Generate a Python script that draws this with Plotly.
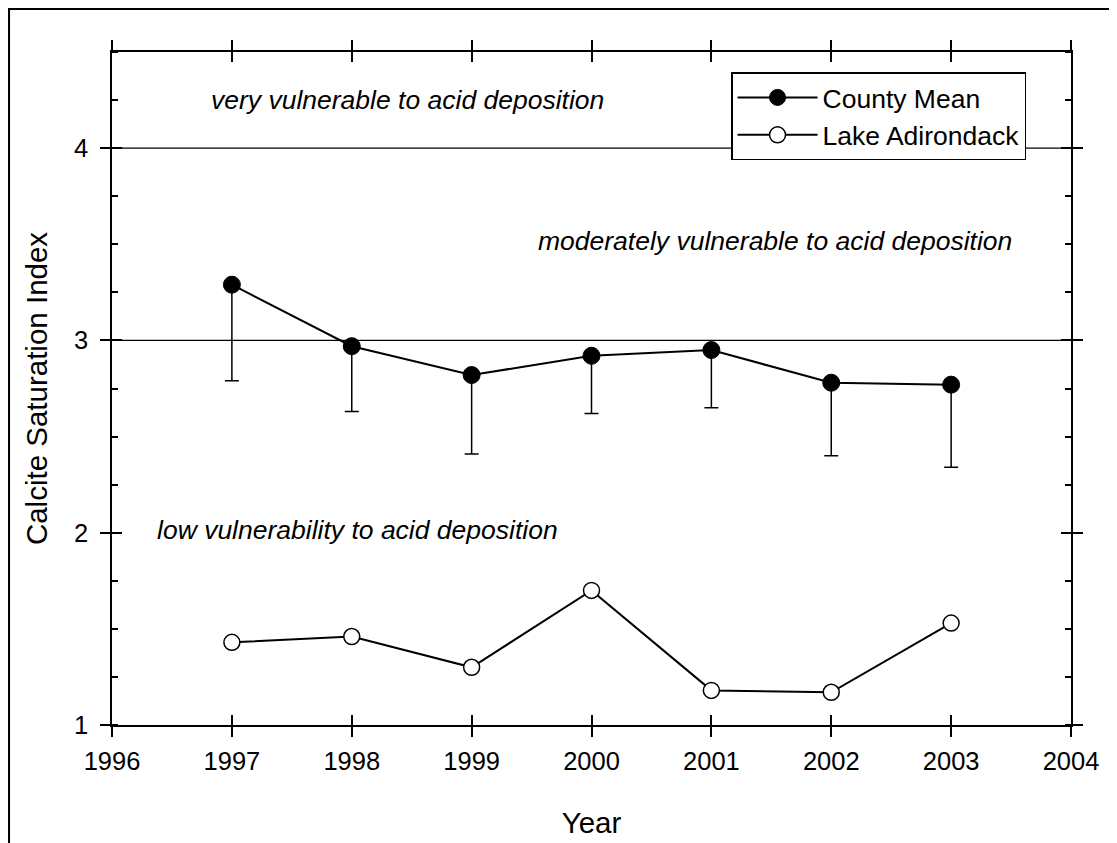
import plotly.graph_objects as go

years = [1997, 1998, 1999, 2000, 2001, 2002, 2003]
county_mean = [3.29, 2.97, 2.82, 2.92, 2.95, 2.78, 2.77]
county_lower = [2.79, 2.63, 2.41, 2.62, 2.65, 2.40, 2.34]
lake_adirondack = [1.43, 1.46, 1.30, 1.70, 1.18, 1.17, 1.53]
thresholds = [3, 4]
zone_labels = ["very vulnerable to acid deposition",
               "moderately vulnerable to acid deposition",
               "low vulnerability to acid deposition"]
x_ticks = [1996, 1997, 1998, 1999, 2000, 2001, 2002, 2003, 2004]
y_ticks = [1, 2, 3, 4]

FONT = "Liberation Sans, Arial, sans-serif"

err_minus = [m - l for m, l in zip(county_mean, county_lower)]

fig = go.Figure()
fig.add_trace(go.Scatter(
    x=years, y=county_mean, name="County Mean", mode="lines+markers",
    line=dict(color="black", width=2),
    marker=dict(symbol="circle", size=17, color="black", line=dict(color="black", width=1)),
    error_y=dict(type="data", symmetric=False, array=[0] * len(years), arrayminus=err_minus,
                 color="black", thickness=1.5, width=7),
))
fig.add_trace(go.Scatter(
    x=years, y=lake_adirondack, name="Lake Adirondack", mode="lines+markers",
    line=dict(color="black", width=2),
    marker=dict(symbol="circle", size=16, color="white", line=dict(color="black", width=1.5)),
))
# invisible trace to instantiate the overlay axes (inward ticks)
fig.add_trace(go.Scatter(x=[None], y=[None], xaxis="x2", yaxis="y2", showlegend=False,
                         hoverinfo="skip"))

for t in thresholds:
    fig.add_shape(type="line", xref="paper", x0=0, x1=1, yref="y", y0=t, y1=t,
                  line=dict(color="black", width=1.3), layer="below")

# outer frame
fig.add_shape(type="rect", xref="paper", yref="paper", x0=-0.1076, x1=1.3, y0=-0.4, y1=1.0642,
              line=dict(color="black", width=2.5))

ann_pos = [(1996.81, 4.25), (1999.54, 3.515), (1996.36, 2.016)]
for txt, (ax_, ay_) in zip(zone_labels, ann_pos):
    fig.add_annotation(x=ax_, y=ay_, xref="x", yref="y", text=f"<i>{txt}</i>",
                       showarrow=False, xanchor="left", yanchor="middle",
                       font=dict(family=FONT, size=26.5, color="black"))

axis_common = dict(showgrid=False, zeroline=False, showline=True, linecolor="black",
                   linewidth=1.5, tickcolor="black", tickwidth=1.5, ticklen=10,
                   automargin=False)

fig.update_layout(
    width=1117, height=843,
    margin=dict(l=104, r=54, t=44, b=126),
    paper_bgcolor="white", plot_bgcolor="white",
    font=dict(family=FONT, size=25.5, color="black"),
    showlegend=True,
    legend=dict(x=0.6455, y=0.970, xanchor="left", yanchor="top",
                bordercolor="black", borderwidth=1.5, bgcolor="white",
                font=dict(family=FONT, size=26.5, color="black"),
                itemwidth=80),
    xaxis=dict(range=[1996, 2004], tickvals=x_ticks, ticktext=[str(v) for v in x_ticks],
               ticks="outside", mirror="ticks", ticklabelstandoff=3,
               title=dict(text="Year", font=dict(family=FONT, size=29.5), standoff=38),
               tickfont=dict(family=FONT, size=25.5), **axis_common),
    yaxis=dict(range=[1, 4.5], tickvals=y_ticks, ticktext=[str(v) for v in y_ticks],
               ticks="outside", mirror="ticks", ticklabelstandoff=7,
               minor=dict(dtick=0.25, ticks="inside", ticklen=6, tickcolor="black", tickwidth=1.5),
               title=dict(text="Calcite Saturation Index", font=dict(family=FONT, size=29.5), standoff=18),
               tickfont=dict(family=FONT, size=25.5), **axis_common),
    xaxis2=dict(range=[1996, 2004], tickvals=x_ticks, overlaying="x", anchor="y2",
                ticks="inside", mirror="ticks", showticklabels=False, **axis_common),
    yaxis2=dict(range=[1, 4.5], tickvals=y_ticks, overlaying="y", anchor="x2",
                ticks="inside", mirror="ticks", showticklabels=False, **axis_common),
)

fig.write_html("out.html")
